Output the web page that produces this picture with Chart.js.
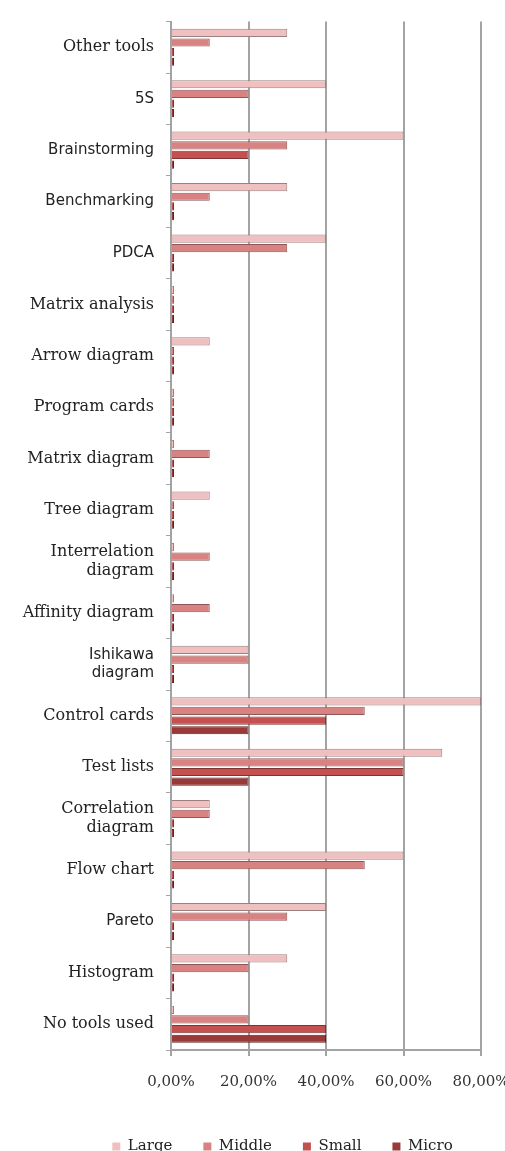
<!DOCTYPE html>
<html>
<head>
<meta charset="utf-8">
<script src="https://cdn.jsdelivr.net/npm/chart.js"></script>
<style>
  html, body { margin: 0; padding: 0; background: #fff; }
</style>
</head>
<body>
<canvas id="chart" width="505" height="1151"></canvas>
<script>
// Tools, top to bottom
const categories = [
  'Other tools', '5S', 'Brainstorming', 'Benchmarking', 'PDCA',
  'Matrix analysis', 'Arrow diagram', 'Program cards', 'Matrix diagram', 'Tree diagram',
  ['Interrelation', 'diagram'], 'Affinity diagram', ['Ishikawa', 'diagram'], 'Control cards', 'Test lists',
  ['Correlation', 'diagram'], 'Flow chart', 'Pareto', 'Histogram', 'No tools used'
];

// share of companies using each tool (%)
const large  = [30, 40, 60, 30, 40, 0, 10, 0, 0, 10, 0, 0, 20, 80, 70, 10, 60, 40, 30, 0];
const middle = [10, 20, 30, 10, 30, 0, 0, 0, 10, 0, 10, 10, 20, 50, 60, 10, 50, 30, 20, 20];
const small  = [0, 0, 20, 0, 0, 0, 0, 0, 0, 0, 0, 0, 0, 40, 60, 0, 0, 0, 0, 40];
const micro  = [0, 0, 0, 0, 0, 0, 0, 0, 0, 0, 0, 0, 0, 20, 20, 0, 0, 0, 0, 40];

const xTicks = [0, 20, 40, 60, 80];

// a few labels in the picture are set in a sans face
const sansLabels = ['5S', 'Brainstorming', 'Benchmarking', 'PDCA', 'Pareto', 'Ishikawa'];

const grey = '#a3a3a3';

function series(label, data, fill, edge) {
  return {
    label: label,
    data: data,
    backgroundColor: fill,
    borderColor: edge,
    borderWidth: 1,
    minBarLength: 3,
    categoryPercentage: 0.75,
    barPercentage: 0.85
  };
}

// the legend in the original sits a bit right of the page centre
const legendShift = {
  id: 'legendShift',
  afterLayout: chart => {
    if (chart.legend) {
      chart.legend.left += 30;
      chart.legend.right += 30;
    }
  }
};

new Chart(document.getElementById('chart'), {
  type: 'bar',
  data: {
    labels: categories,
    datasets: [
      series('Large', large, '#f0c0c0', '#9c8080'),
      series('Middle', middle, '#d98282', '#8e5656'),
      series('Small', small, '#c4504f', '#7e3433'),
      series('Micro', micro, '#993a39', '#5e2222')
    ]
  },
  plugins: [legendShift],
  options: {
    indexAxis: 'y',
    responsive: false,
    animation: false,
    layout: { padding: { top: 21, right: 0, bottom: -13, left: 0 } },
    scales: {
      x: {
        min: 0,
        max: 80,
        afterBuildTicks: s => { s.ticks = xTicks.map(v => ({ value: v })); },
        afterFit: s => { s.paddingRight = 24; },
        grid: { color: grey, lineWidth: 2, tickLength: 6 },
        border: { color: grey, width: 2 },
        ticks: {
          padding: 17,
          color: '#333',
          font: { family: 'DejaVu Serif', size: 15 },
          callback: v => v.toFixed(2).replace('.', ',') + '%'
        }
      },
      y: {
        afterFit: s => { s.width = 171; },
        grid: { drawOnChartArea: false, color: grey, tickLength: 5 },
        border: { color: grey, width: 2 },
        ticks: {
          padding: 12,
          color: '#222',
          font: ctx => {
            const lab = categories[ctx.index];
            const first = Array.isArray(lab) ? lab[0] : lab;
            return sansLabels.includes(first)
              ? { family: 'DejaVu Sans', size: 15 }
              : { family: 'DejaVu Serif', size: 16 };
          }
        }
      }
    },
    plugins: {
      tooltip: { enabled: false },
      legend: {
        position: 'bottom',
        labels: {
          boxWidth: 8,
          boxHeight: 8,
          padding: 31,
          color: '#222',
          font: { family: 'DejaVu Serif', size: 15 },
          generateLabels: chart => {
            const items = Chart.defaults.plugins.legend.labels.generateLabels(chart);
            items.forEach(it => { it.lineWidth = 0; });
            return items;
          }
        }
      }
    }
  }
});
</script>
</body>
</html>
